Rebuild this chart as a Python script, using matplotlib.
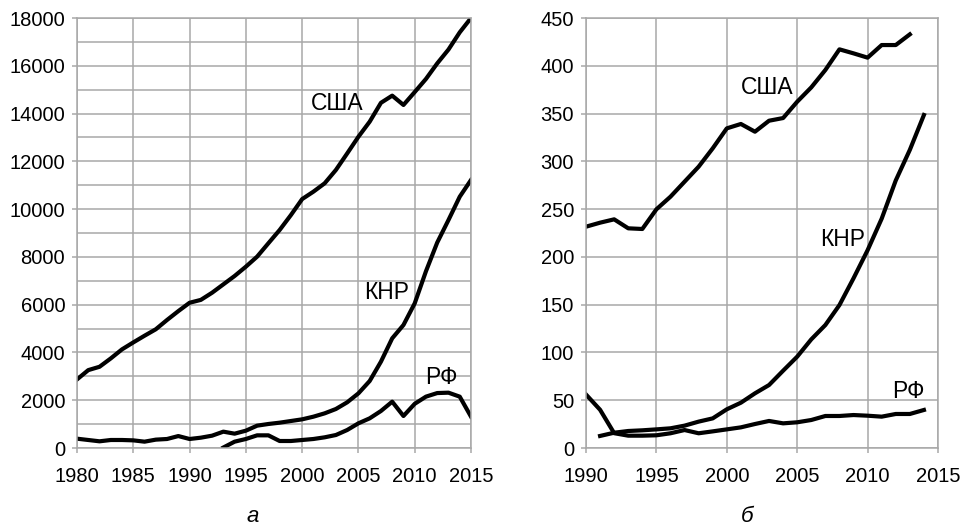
import matplotlib
matplotlib.use("Agg")
import matplotlib.pyplot as plt
import numpy as np

plt.rcParams['font.family'] = ['Liberation Sans', 'DejaVu Sans']

# ---- Panel a: GDP, bn USD, 1980-2015 ----
years_a = list(range(1980, 2016))
usa_a = [2870, 3260, 3400, 3750, 4130, 4420, 4700, 4970, 5360, 5730,
         6080, 6200, 6500, 6850, 7200, 7590, 8010, 8570, 9125, 9750,
         10420, 10730, 11080, 11640, 12330, 13030, 13660, 14450, 14750, 14360,
         14900, 15450, 16100, 16680, 17400, 18000]
chn_a = [390, 335, 280, 335, 335, 320, 265, 350, 377, 500,
         377, 432, 516, 684, 600, 725, 935, 1005, 1060, 1130,
         1200, 1311, 1451, 1633, 1912, 2288, 2805, 3614, 4591, 5149,
         6056, 7400, 8600, 9544, 10520, 11220]
years_ru_a = list(range(1993, 2016))
rus_a = [20, 265, 377, 530, 530, 293, 293, 335, 377, 447,
         544, 753, 1033, 1242, 1549, 1939, 1340, 1850, 2150, 2300,
         2316, 2149, 1312]

# ---- Panel b: 1990-2015 ----
years_us_b = list(range(1990, 2014))
usa_b = [231.6, 235.8, 239.3, 229.9, 229.2, 249.8, 263.0, 278.7, 294.4, 313.6,
         334.5, 339.1, 331.0, 342.5, 345.3, 362.4, 377.4, 395.6, 417.2, 413.0,
         408.5, 421.7, 421.7, 432.9]
years_cn_b = list(range(1991, 2015))
chn_b = [12.6, 16.0, 17.8, 18.5, 19.5, 20.6, 23.4, 27.6, 31.0, 40.5,
         47.4, 57.2, 65.9, 80.9, 95.6, 113.7, 128.7, 149.6, 177.6, 207.0,
         240.0, 280.0, 312.0, 348.5]
years_ru_b = list(range(1990, 2015))
rus_b = [56.0, 40.0, 15.5, 12.9, 12.9, 13.3, 15.4, 18.8, 15.4, 17.4,
         19.5, 21.6, 25.1, 28.3, 25.8, 26.9, 29.3, 33.5, 33.5, 34.5,
         33.8, 32.8, 35.6, 35.6, 39.8]

labels = ['США', 'КНР', 'РФ']

fig = plt.figure(figsize=(9.62, 5.26), dpi=100)
W, H = 962, 526


def make_ax(x0, x1, y0, y1):
    return fig.add_axes([x0 / W, 1 - y1 / H, (x1 - x0) / W, (y1 - y0) / H])


grid_col = '#a8a8a8'
tick_fs = 14.5
lab_fs = 16.5
lw = 3.0


def style(ax):
    for sp in ax.spines.values():
        sp.set_color(grid_col)
        sp.set_linewidth(1.1)
    ax.grid(True, which='both', color=grid_col, linewidth=1.1)
    ax.set_axisbelow(True)
    ax.tick_params(axis='both', which='major', color=grid_col, length=3.5,
                   width=1.1, labelsize=tick_fs, pad=5)
    ax.tick_params(axis='both', which='minor', length=0)
    ax.tick_params(axis='x', pad=10.5)


# Left panel
axL = make_ax(77, 471, 18, 448)
axL.plot(years_a, usa_a, color='black', lw=lw, solid_joinstyle='round')
axL.plot(years_a, chn_a, color='black', lw=lw, solid_joinstyle='round')
axL.plot(years_ru_a, rus_a, color='black', lw=lw, solid_joinstyle='round')
axL.set_xlim(1980, 2015)
axL.set_ylim(0, 18000)
axL.set_xticks(range(1980, 2016, 5))
axL.set_yticks(range(0, 18001, 2000))
axL.set_yticks(range(1000, 18000, 2000), minor=True)
style(axL)
axL.text(2003.1, 14440, labels[0], fontsize=lab_fs, ha='center', va='center')
axL.text(2007.5, 6490, labels[1], fontsize=lab_fs, ha='center', va='center')
axL.text(2012.4, 2970, labels[2], fontsize=lab_fs, ha='center', va='center')
fig.text(252.5 / W, 1 - 517 / H, 'а', fontsize=16, style='italic',
         ha='center', va='center')

# Right panel
axR = make_ax(586, 938, 18, 448)
axR.plot(years_us_b, usa_b, color='black', lw=lw, solid_joinstyle='round')
axR.plot(years_cn_b, chn_b, color='black', lw=lw, solid_joinstyle='round')
axR.plot(years_ru_b, rus_b, color='black', lw=lw, solid_joinstyle='round')
axR.set_xlim(1990, 2015)
axR.set_ylim(0, 450)
axR.set_xticks(range(1990, 2016, 5))
axR.set_yticks(range(0, 451, 50))
style(axR)
axR.text(2002.85, 377, labels[0], fontsize=lab_fs, ha='center', va='center')
axR.text(2008.25, 218, labels[1], fontsize=lab_fs, ha='center', va='center')
axR.text(2012.87, 59, labels[2], fontsize=lab_fs, ha='center', va='center')
fig.text(747 / W, 1 - 517 / H, 'б', fontsize=16, style='italic',
         ha='center', va='center')

fig.savefig('out.png', dpi=100)
